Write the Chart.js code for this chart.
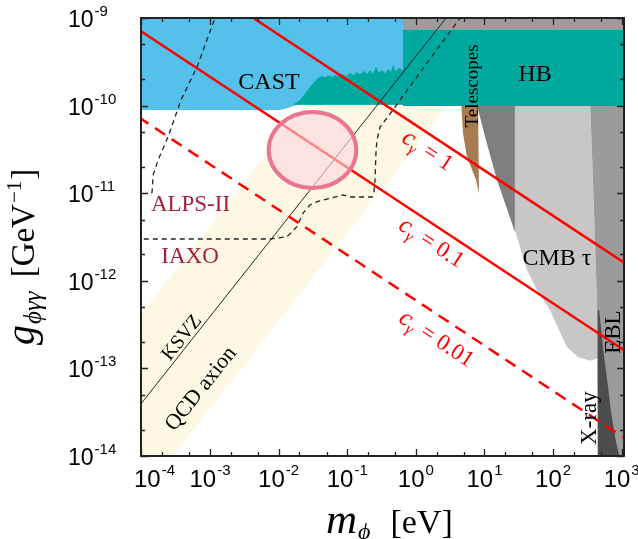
<!DOCTYPE html>
<html><head><meta charset="utf-8">
<script src="https://cdn.jsdelivr.net/npm/chart.js@4"></script>
<style>html,body{margin:0;padding:0;background:#fff}#wrap{width:638px;height:539px;position:relative}</style>
</head><body><div id="wrap"><canvas id="c" width="638" height="539"></canvas></div>
<script>
// ---- axis ranges / tick labels (exponents of 10) ----
const xRange = [9.86e-5, 1081];
const yRange = [1e-14, 1e-9];
const xTickExps = [-4, -3, -2, -1, 0, 1, 2, 3];
const yTickExps = [-14, -13, -12, -11, -10, -9];

// ---- regions (m [eV], g [GeV^-1]) ----
const qcdBand = [[9e-5,3.78e-13],[0.238,1e-9],[28.9,1e-9],[2.89e-4,1e-14],[9e-5,1e-14]];
const castBlue = [[9e-5,1.2e-9],[0.649,1.2e-9],[0.649,1.02e-10],[1.86e-2,1.02e-10],[1.37e-2,9.4e-11],[1.05e-2,8.9e-11],[9e-5,8.9e-11]];
const castTeal = [[1.62e-2,1.02e-10],[2.05e-2,1.16e-10],[2.86e-2,1.63e-10],[3.75e-2,2.07e-10],[4.28e-2,2.18e-10],[4.8e-2,2.1e-10],[5.24e-2,2.2e-10],[5.99e-2,2.14e-10],[6.6e-2,2.22e-10],[7.33e-2,2.16e-10],[8.38e-2,2.29e-10],[9.58e-2,2.16e-10],[0.110,2.36e-10],[0.125,2.22e-10],[0.139,2.42e-10],[0.153,2.26e-10],[0.175,2.48e-10],[0.194,2.3e-10],[0.215,2.55e-10],[0.237,2.32e-10],[0.262,2.76e-10],[0.290,2.38e-10],[0.321,2.55e-10],[0.355,2.32e-10],[0.392,2.62e-10],[0.434,2.42e-10],[0.464,2.91e-10],[0.513,2.48e-10],[0.568,2.69e-10],[0.649,2.55e-10],[0.649,1.02e-10]];
const hbRegion = [[0.649,9.9e-11],[1.2e3,9.9e-11],[1.2e3,7.29e-10],[0.649,7.29e-10]];
const topGray = [[0.649,7.29e-10],[1.2e3,7.29e-10],[1.2e3,1.2e-9],[0.649,1.2e-9]];
const telescopes = [[4.55,1.2e-10],[8.04,1.2e-10],[8.32,1.0e-11],[7.52,1.42e-11],[6.36,1.99e-11],[5.56,2.59e-11],[4.86,4.87e-11]];
const darkWedge = [[7.78,1.2e-10],[27.8,1.2e-10],[27.8,3.6e-12],[15.2,1.42e-11],[10.5,4.05e-11],[7.78,1.0e-10]];
const cmbTau = [[27.8,1.2e-10],[345,1.2e-10],[381,1.42e-11],[436,6.03e-13],[451,1.31e-13],[345,1.22e-13],[230,1.35e-13],[159,1.75e-13],[126,2.6e-13],[90.1,4.64e-13],[58.2,7.85e-13],[41.6,1.33e-12],[32.9,2.43e-12],[27.8,3.8e-12]];
const ebl = [[345,1.2e-10],[1.2e3,1.2e-10],[1.2e3,9e-15],[452,9e-15],[436,6.03e-13],[381,1.42e-11]];
const xray = [[448,4.6e-13],[470,4.6e-13],[540,1.6e-13],[620,7.0e-14],[700,3.2e-14],[820,1.5e-14],[950,9e-15],[448,9e-15]];

// ---- curves ----
const ksvz = [[9.5e-5,3.8e-14],[2.9,1.05e-9]];
const cgamma1 = [[1e-3,2.12e-9],[1.1e3,1.6e-12]];
const cgamma01 = [[9e-5,7.4e-10],[1.1e3,1.6e-13]];
const cgamma001 = [[9e-5,7.4e-11],[1.1e3,1.6e-14]];
const iaxo = [[8e-5,3.0e-12],[7.48e-3,3.0e-12],[1.32e-2,3.19e-12],[1.85e-2,4.15e-12],[2.27e-2,5.94e-12],[2.86e-2,7.33e-12],[3.62e-2,7.99e-12],[5.6e-2,8.74e-12],[7.6e-2,9.3e-12],[8.67e-2,9.54e-12],[0.110,9.05e-12],[0.170,9.05e-12],[0.229,9.05e-12],[0.245,1.03e-11],[0.254,1.42e-11],[0.262,2.88e-11],[0.271,4.05e-11],[0.300,5.7e-11],[0.379,7.22e-11],[4.40,1.0e-9],[5.5,1.27e-9]];
const alps = [[1.40e-4,1.0e-11],[1.43e-4,1.03e-11],[1.48e-4,1.61e-11],[1.75e-4,2.39e-11],[2.44e-4,4.38e-11],[3.78e-4,1.16e-10],[6.46e-4,2.76e-10],[1.18e-3,1.0e-9],[1.3e-3,1.2e-9]];
// projected region (ellipse bounds)
const circleM = [7.17e-3, 0.1353];
const circleG = [1.146e-11, 8.45e-11];

// ---- text annotations (anchor in data units) ----
const notes = [
  {t:'CAST', m:7.24e-3, g:1.91e-10, size:24, rot:0, color:'#000'},
  {t:'HB', m:54.5, g:2.356e-10, size:24, rot:0, color:'#000'},
  {t:'Telescopes', m:6.46, g:1.674e-10, size:19, rot:-90, color:'#000'},
  {t:'CMB τ', m:113.9, g:1.87e-12, size:24, rot:0, color:'#000'},
  {t:'EBL', m:721, g:2.6e-13, size:23, rot:-90, color:'#000'},
  {t:'X-ray', m:322.4, g:2.71e-14, size:23, rot:-90, color:'#000'},
  {t:'ALPS-II', m:5.19e-4, g:7.62e-12, size:23, rot:0, color:'#A51F3D'},
  {t:'IAXO', m:5.11e-4, g:1.97e-12, size:23, rot:0, color:'#A51F3D'},
  {t:'KSVZ', m:3.78e-4, g:2.28e-13, size:20, rot:-51.6, color:'#000'},
  {t:'QCD axion', m:7.14e-4, g:5.97e-14, size:22, rot:-51.6, color:'#000'}
];
const cNotes = [
  {v:'1', m:1.502, g:3.11e-11},
  {v:'0.1', m:1.718, g:2.77e-12},
  {v:'0.01', m:2.032, g:2.22e-13}
];

const SERIF = '"Liberation Serif", "Times New Roman", serif';
const SANS = '"Liberation Sans", Arial, Helvetica, sans-serif';

const pts = a => a.map(p => ({x:p[0], y:p[1]}));
function poly(a, col){ return {data:pts(a), fill:'shape', backgroundColor:col, borderWidth:0, pointRadius:0, tension:0}; }
function curve(a, col, w, dash){ return {data:pts(a), fill:false, borderColor:col, borderWidth:w, borderDash:dash||[], pointRadius:0, tension:0}; }

function drawParts(ctx, parts, x, y, rot, align){
  ctx.save();
  ctx.translate(x, y);
  ctx.rotate(rot*Math.PI/180);
  let w = 0;
  parts.forEach(p => { ctx.font = p.font; p.w = ctx.measureText(p.t).width + (p.gap||0); w += p.w; });
  let cx = align==='center' ? -w/2 : (align==='right' ? -w : 0);
  ctx.textBaseline = 'alphabetic';
  ctx.textAlign = 'left';
  parts.forEach(p => { ctx.font = p.font; ctx.fillStyle = p.color || '#000'; ctx.fillText(p.t, cx + (p.gap||0), p.dy||0); cx += p.w; });
  ctx.restore();
}

const overlay = {
  id:'overlay',
  afterDatasetsDraw(chart){
    const ctx = chart.ctx, xs = chart.scales.x, ys = chart.scales.y, a = chart.chartArea;
    ctx.save();
    ctx.beginPath(); ctx.rect(a.left, a.top, a.right-a.left, a.bottom-a.top); ctx.clip();
    // ellipse
    const x1 = xs.getPixelForValue(circleM[0]), x2 = xs.getPixelForValue(circleM[1]);
    const y1 = ys.getPixelForValue(circleG[0]), y2 = ys.getPixelForValue(circleG[1]);
    ctx.beginPath();
    ctx.ellipse((x1+x2)/2, (y1+y2)/2, Math.abs(x2-x1)/2, Math.abs(y2-y1)/2, 0, 0, 2*Math.PI);
    ctx.fillStyle = 'rgba(252,214,221,0.62)'; ctx.fill();
    ctx.lineWidth = 4; ctx.strokeStyle = '#EA7590'; ctx.stroke();
    // notes
    notes.forEach(n => {
      const px = xs.getPixelForValue(n.m), py = ys.getPixelForValue(n.g);
      const r = n.rot*Math.PI/180, off = n.size*0.33;
      drawParts(ctx, [{t:n.t, font:`${n.size}px ${SERIF}`, color:n.color}], px - Math.sin(r)*off, py + Math.cos(r)*off, n.rot, 'center');
    });
    cNotes.forEach(n => {
      const px = xs.getPixelForValue(n.m), py = ys.getPixelForValue(n.g);
      const rot = 33.3, r = rot*Math.PI/180, off = 23*0.33;
      drawParts(ctx, [
        {t:'c', font:`italic 25px ${SERIF}`, color:'#F00'},
        {t:'γ', font:`italic 16px ${SERIF}`, color:'#F00', dy:5},
        {t:'= '+n.v, font:`23px ${SERIF}`, color:'#F00', gap:8}
      ], px - Math.sin(r)*off, py + Math.cos(r)*off, rot, 'center');
    });
    ctx.restore();
  },
  afterDraw(chart){
    const ctx = chart.ctx, xs = chart.scales.x, ys = chart.scales.y, a = chart.chartArea;
    ctx.save();
    // ticks
    ctx.strokeStyle = '#222'; ctx.lineWidth = 1.3;
    const minorMult = [1, 2, 5];
    for (let e = -5; e <= 3; e++) {
      minorMult.forEach(k => {
        const v = k*Math.pow(10, e);
        if (v < xRange[0]*0.999 || v > xRange[1]) return;
        const px = Math.round(xs.getPixelForValue(v)) + 0.5;
        const L = k===1 ? 7 : 4;
        ctx.beginPath();
        ctx.moveTo(px, a.bottom); ctx.lineTo(px, a.bottom - L);
        ctx.moveTo(px, a.top); ctx.lineTo(px, a.top + L);
        ctx.stroke();
      });
    }
    for (let e = -15; e <= -9; e++) {
      minorMult.forEach(k => {
        const v = k*Math.pow(10, e);
        if (v < yRange[0]*0.999 || v > yRange[1]*1.001) return;
        const py = Math.round(ys.getPixelForValue(v)) + 0.5;
        const L = k===1 ? 7 : 4;
        ctx.beginPath();
        ctx.moveTo(a.left, py); ctx.lineTo(a.left + L, py);
        ctx.moveTo(a.right, py); ctx.lineTo(a.right - L, py);
        ctx.stroke();
      });
    }
    // frame
    ctx.lineWidth = 2; ctx.strokeStyle = '#222';
    ctx.strokeRect(a.left, a.top, a.right-a.left, a.bottom-a.top);
    // x tick labels
    xTickExps.forEach(e => {
      const px = xs.getPixelForValue(Math.pow(10, e));
      const parts = [{t:'10', font:`24px ${SANS}`}, {t:String(e), font:`15px ${SANS}`, dy:-12, gap:1}];
      ctx.font = parts[0].font; let w = ctx.measureText('10').width;
      ctx.font = parts[1].font; w += ctx.measureText(String(e)).width + 1;
      let left = px - w/2;
      if (left < 134) left = 134;
      drawParts(ctx, parts, left, 487, 0, 'left');
    });
    // y tick labels
    yTickExps.forEach(e => {
      const py = ys.getPixelForValue(Math.pow(10, e));
      drawParts(ctx, [{t:'10', font:`23px ${SANS}`}, {t:String(e), font:`15px ${SANS}`, dy:-11, gap:1}], 68, py + 9, 0, 'left');
    });
    // axis titles
    drawParts(ctx, [
      {t:'m', font:`italic 43px ${SERIF}`},
      {t:'ϕ', font:`italic 24px ${SERIF}`, dy:6, gap:1},
      {t:'[eV]', font:`34px ${SERIF}`, gap:20}
    ], 326, 533, 0, 'left');
    drawParts(ctx, [
      {t:'g', font:`italic 40px ${SERIF}`},
      {t:'ϕγγ', font:`italic 25px ${SERIF}`, dy:7, gap:1},
      {t:'[GeV', font:`33px ${SERIF}`, gap:14},
      {t:'−1', font:`21px ${SERIF}`, dy:-13, gap:1},
      {t:']', font:`33px ${SERIF}`, gap:1}
    ], 34, 345, -90, 'left');
    ctx.restore();
  }
};

new Chart(document.getElementById('c'), {
  type:'line',
  data:{ datasets:[
    curve(cgamma1, '#FF0000', 2.5),
    curve(cgamma01, '#FF0000', 2.5),
    curve(cgamma001, '#FF0000', 2.5, [12,8]),
    curve(iaxo, '#222', 1.3, [5,4]),
    curve(alps, '#222', 1.3, [5,4]),
    curve(ksvz, '#111', 0.9),
    poly(hbRegion, '#00A99D'),
    poly(topGray, '#9C9C9C'),
    poly(xray, '#4D4D4D'),
    poly(ebl, '#9B9B9B'),
    poly(cmbTau, '#C9C6C6'),
    poly(darkWedge, '#7F7F7F'),
    poly(telescopes, '#A77C50'),
    poly(castTeal, '#00A99D'),
    poly(castBlue, '#53C1EA'),
    poly(qcdBand, '#FDF8E4')
  ]},
  options:{
    responsive:false, animation:false,
    layout:{padding:{left:141, top:18, right:14, bottom:83}},
    scales:{
      x:{type:'logarithmic', min:xRange[0], max:xRange[1], display:false},
      y:{type:'logarithmic', min:yRange[0], max:yRange[1], display:false}
    },
    plugins:{legend:{display:false}, tooltip:{enabled:false}},
    elements:{line:{capBezierPoints:false}}
  },
  plugins:[overlay]
});
</script></body></html>
